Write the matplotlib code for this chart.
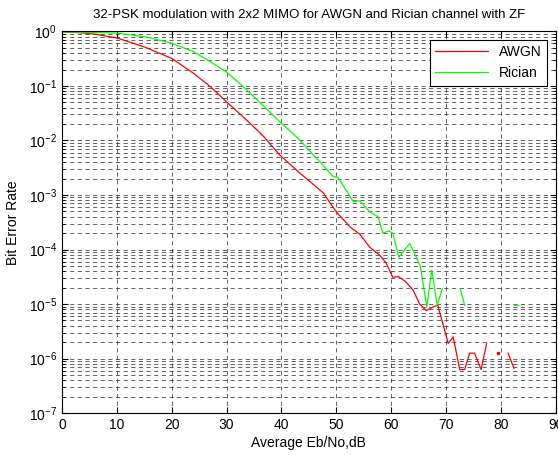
import numpy as np
import matplotlib
matplotlib.use("Agg")
import matplotlib.pyplot as plt
from matplotlib.ticker import LogLocator, FixedLocator

# Eb/No values (dB) and BER
ebno_awgn = [0, 3, 6, 10, 15, 20, 24, 27, 30, 33.6, 36.7, 39.7, 43.4, 47.6,
             50, 52.5, 54.3, 56.1, 57.9, 59.1, 60.3, 61.3, 62.6, 64.0, 65.2,
             66.4, 67.9, 68.5, 70.4, 71.3, 72.5, 73.4, 74.3, 75.2, 76.4, 77.4,
             78.4, 79.4, 80.4, 81.3, 82.4]
ber_awgn = [0.98, 0.95, 0.89, 0.76, 0.52, 0.32, 0.17, 9.8e-2, 5.1e-2, 2.4e-2,
            1.2e-2, 5.4e-3, 2.5e-3, 1.1e-3, 4.9e-4, 2.6e-4, 1.9e-4, 1.1e-4,
            7.9e-5, 5.6e-5, 3.1e-5, 3.2e-5, 2.6e-5, 1.8e-5, 1.0e-5, 7.6e-6,
            9.1e-6, 9.5e-6, 1.9e-6, 2.5e-6, 6.3e-7, 6.3e-7, 1.26e-6, 1.26e-6,
            6.3e-7, 1.9e-6, np.nan, 1.26e-6, np.nan, 1.26e-6, 6.6e-7]

ebno_rician = [0, 10, 15.4, 19.7, 23.9, 27, 30, 33, 36, 39.7, 43, 47.6, 49.4,
               50.3, 53.1, 54.3, 56.1, 57.6, 58.5, 59.6, 60.3, 61.4, 63.4,
               65.3, 66.5, 67.4, 68.4, 69.3, 71.0, 72.6, 73.4, 78.0, 82.5, 83.3]
ber_rician = [0.98, 0.93, 0.79, 0.62, 0.43, 0.28, 0.18, 9.8e-2, 5.1e-2,
              2.2e-2, 1.1e-2, 3.5e-3, 2.2e-3, 2.1e-3, 7.6e-4, 7.8e-4, 4.9e-4,
              4.0e-4, 2.0e-4, 2.2e-4, 2.0e-4, 7.2e-5, 1.3e-4, 5.0e-5, 8.9e-6,
              4.2e-5, 9.5e-6, 1.9e-5, np.nan, 1.9e-5, 9.5e-6, np.nan, 9.5e-6,
              9.5e-6]

x_ticks = [0, 10, 20, 30, 40, 50, 60, 70, 80, 90]


def isolated(x, y):
    # points with no neighbour on either side would not show as a line
    y = np.asarray(y, dtype=float)
    xs, ys = [], []
    for i in range(len(y)):
        if np.isnan(y[i]):
            continue
        left = i == 0 or np.isnan(y[i - 1])
        right = i == len(y) - 1 or np.isnan(y[i + 1])
        if left and right:
            xs.append(x[i])
            ys.append(y[i])
    return xs, ys


plt.rcParams['font.family'] = ['Liberation Sans', 'DejaVu Sans']
plt.rcParams['mathtext.fontset'] = 'custom'
plt.rcParams['mathtext.rm'] = 'Liberation Sans'

fig = plt.figure(figsize=(5.58, 4.55), dpi=100)
ax = fig.add_axes([0.111, 0.092, 0.885, 0.839])

ax.semilogy(ebno_awgn, ber_awgn, color='#ff0000', lw=0.9, label='AWGN')
ax.semilogy(ebno_rician, ber_rician, color='#00ff00', lw=0.9, label='Rician')
xi, yi = isolated(ebno_awgn, ber_awgn)
ax.plot(xi, yi, ls='none', marker='s', ms=2, color='#ff0000')

ax.set_xlim(0, 90)
ax.set_ylim(1e-7, 1)
ax.xaxis.set_major_locator(FixedLocator(x_ticks))
ax.yaxis.set_major_locator(LogLocator(base=10, numticks=10))
ax.yaxis.set_minor_locator(LogLocator(base=10, subs=np.arange(2, 10), numticks=20))

ax.grid(True, which='major', color='0.15', ls=(0, (6, 5)), lw=0.5)
ax.grid(True, which='minor', axis='y', color='0.15', ls=(0, (6, 5)), lw=0.5)
ax.tick_params(which='both', direction='in', top=True, right=True, labelsize=10)
ax.tick_params(which='major', length=4)
ax.tick_params(which='minor', length=2)
for s in ax.spines.values():
    s.set_linewidth(0.8)

ax.set_title('32-PSK modulation with 2x2 MIMO for AWGN and Rician channel with ZF',
             fontsize=9.5, pad=10)
ax.set_xlabel('Average Eb/No,dB', fontsize=10, labelpad=3)
ax.set_ylabel('Bit Error Rate', fontsize=10, labelpad=6)

leg = ax.legend(loc='upper right', fontsize=10, fancybox=False, framealpha=1,
                edgecolor='black', borderaxespad=0.6, handlelength=3.8)
leg.get_frame().set_linewidth(0.8)

fig.savefig('out.png', dpi=100)
